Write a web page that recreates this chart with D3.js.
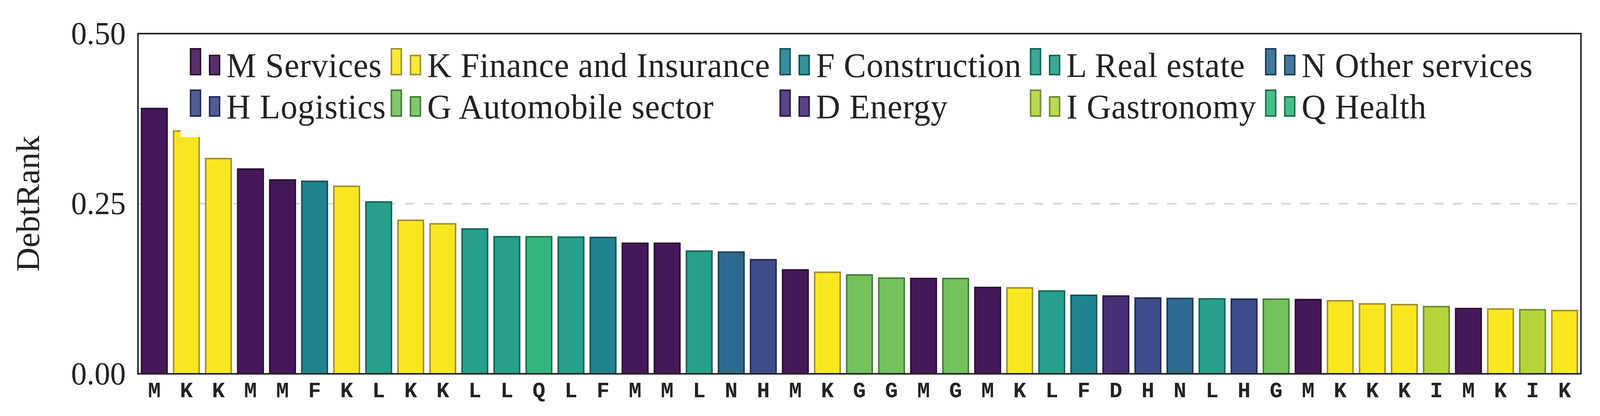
<!DOCTYPE html>
<html>
<head>
<meta charset="utf-8">
<script src="https://cdn.jsdelivr.net/npm/d3@7"></script>
<style>
  html, body { margin: 0; padding: 0; overflow: hidden; background: #fff; }
  svg { display: block; width: 100vw; height: 100vh; }
</style>
</head>
<body>
<script>
// Sector code of each bar, left to right
var sectors = ['M','K','K','M','M','F','K','L','K','K','L','L','Q','L','F','M','M','L','N','H',
               'M','K','G','G','M','G','M','K','L','F','D','H','N','L','H','G','M','K','K','K',
               'I','M','K','I','K'];

// DebtRank value of each bar
var values = [0.391, 0.358, 0.3175, 0.302, 0.286, 0.284, 0.2767, 0.2537, 0.2267, 0.2216,
              0.214, 0.2026, 0.2026, 0.202, 0.2015, 0.193, 0.193, 0.1814, 0.180, 0.1688,
              0.1538, 0.1504, 0.1464, 0.1418, 0.1412, 0.1412, 0.128, 0.1274, 0.1228, 0.1165,
              0.1154, 0.1125, 0.1119, 0.1113, 0.1108, 0.1108, 0.1102, 0.1085, 0.1039, 0.1028,
              0.0999, 0.097, 0.0964, 0.0953, 0.0941];

// Legend entries
var legendCodes = ['M','K','F','L','N','H','G','D','I','Q'];
var legendNames = ['M Services','K Finance and Insurance','F Construction','L Real estate','N Other services',
                   'H Logistics','G Automobile sector','D Energy','I Gastronomy','Q Health'];

var yTicks = [0, 0.25, 0.5];

// fill / edge per sector
var fills = { M: '#45185a', K: '#f8e71f', F: '#1f8490', L: '#25a08a', N: '#2e6a8f',
              H: '#3e4c8a', G: '#74c25c', D: '#482f78', I: '#b5d43a', Q: '#33b77b' };
var edges = { M: '#2a0f33', K: '#9f9130', F: '#175357', L: '#14665a', N: '#1b3d57',
              H: '#222d55', G: '#427b3c', D: '#2a1b47', I: '#6f8938', Q: '#1b7249' };

function drawChart() {
  var W = 4198, H = 1065;
  var mLeft = 362, mRight = 4148, mTop = 86, mBottom = 957;
  var sw = 4;

  // fixed drawing size, stretched to whatever the viewport is
  var svg = d3.select('body').append('svg')
    .attr('viewBox', '0 0 ' + W + ' ' + H)
    .attr('preserveAspectRatio', 'none');

  var x = d3.scaleBand()
    .domain(d3.range(values.length))
    .range([mLeft, mRight])
    .paddingInner(0.156)
    .paddingOuter(0.088);

  var y = d3.scaleLinear()
    .domain([0, 0.5])
    .range([mBottom, mTop]);

  // dashed grid
  svg.append('g')
    .selectAll('line')
    .data(yTicks)
    .enter()
    .append('line')
    .attr('x1', mLeft)
    .attr('x2', mRight)
    .attr('y1', function(d) { return y(d); })
    .attr('y2', function(d) { return y(d); })
    .attr('stroke', '#d3d3d3')
    .attr('stroke-width', 4)
    .attr('stroke-dasharray', '25,25');

  // bars
  svg.append('g')
    .selectAll('rect')
    .data(values)
    .enter()
    .append('rect')
    .attr('x', function(d, i) { return x(i) + sw / 2; })
    .attr('y', function(d) { return y(d) + sw / 2; })
    .attr('width', x.bandwidth() - sw)
    .attr('height', function(d) { return y(0) - y(d) - sw / 2; })
    .attr('fill', function(d, i) { return fills[sectors[i]]; })
    .attr('stroke', function(d, i) { return edges[sectors[i]]; })
    .attr('stroke-width', sw);

  // y axis
  var yAxis = svg.append('g')
    .attr('transform', 'translate(' + mLeft + ',0)')
    .call(d3.axisLeft(y).tickValues(yTicks).tickFormat(d3.format('.2f')).tickSize(0).tickPadding(32));
  yAxis.select('.domain').remove();
  yAxis.selectAll('text')
    .attr('font-family', '"Liberation Serif", serif')
    .attr('font-size', 82)
    .attr('fill', '#222');

  // x axis
  var xAxis = svg.append('g')
    .attr('transform', 'translate(0,' + mBottom + ')')
    .call(d3.axisBottom(x).tickFormat(function(i) { return sectors[i]; }).tickSize(0).tickPadding(20));
  xAxis.select('.domain').remove();
  xAxis.selectAll('text')
    .attr('font-family', '"Liberation Mono", monospace')
    .attr('font-weight', 'bold')
    .attr('font-size', 56)
    .attr('fill', '#222');

  // y label
  svg.append('text')
    .attr('transform', 'translate(102,' + y(0.25) + ') rotate(-90)')
    .attr('text-anchor', 'middle')
    .attr('font-family', '"Liberation Serif", serif')
    .attr('font-size', 86)
    .attr('fill', '#222')
    .text('DebtRank');

  // legend background
  svg.append('rect')
    .attr('x', 474)
    .attr('y', 100)
    .attr('width', 4090 - 474)
    .attr('height', 251)
    .attr('fill', '#fff')
    .attr('opacity', 0.9);

  var colX = [498, 1025, 2045, 2702, 3319];
  var rowBase = [197, 303];

  var items = svg.append('g')
    .selectAll('g')
    .data(legendCodes)
    .enter()
    .append('g')
    .attr('transform', function(d, i) {
      return 'translate(' + colX[i % 5] + ',' + rowBase[Math.floor(i / 5)] + ')';
    });

  items.append('rect')
    .attr('x', 2).attr('y', -72)
    .attr('width', 26).attr('height', 66)
    .attr('fill', function(d) { return fills[d]; })
    .attr('fill-opacity', 0.9)
    .attr('stroke', function(d) { return edges[d]; })
    .attr('stroke-width', sw);

  items.append('rect')
    .attr('x', 52).attr('y', -55)
    .attr('width', 26).attr('height', 49)
    .attr('fill', function(d) { return fills[d]; })
    .attr('fill-opacity', 0.9)
    .attr('stroke', function(d) { return edges[d]; })
    .attr('stroke-width', sw);

  items.append('text')
    .attr('x', 96)
    .attr('font-family', '"Liberation Serif", serif')
    .attr('font-size', 88)
    .attr('letter-spacing', 1)
    .attr('fill', '#222')
    .text(function(d, i) { return legendNames[i]; });

  // frame
  svg.append('rect')
    .attr('x', mLeft)
    .attr('y', mTop)
    .attr('width', mRight - mLeft)
    .attr('height', mBottom - mTop)
    .attr('fill', 'none')
    .attr('stroke', '#222')
    .attr('stroke-width', 4);
}

drawChart();
</script>
</body>
</html>
